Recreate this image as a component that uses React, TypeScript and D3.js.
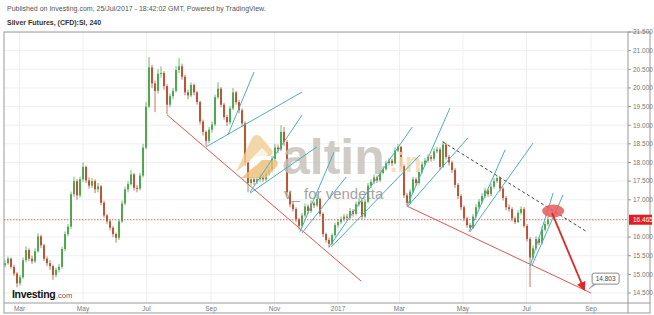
import React from 'react';
import * as d3 from 'd3';

// ---- data ----
const firstOpen = 15.25;
const closes = [
  15.30, 15.42, 15.20, 15.02, 14.76, 14.92, 15.38, 15.65, 15.42, 15.35,
  15.62, 16.02, 15.78, 15.42, 15.30, 15.22, 14.98, 15.12, 15.20, 15.68,
  16.08, 16.28, 17.15, 17.50, 17.12, 17.55, 17.88, 17.52, 17.38, 17.50,
  17.28, 17.36, 16.92, 16.58, 16.42, 16.25, 16.08, 15.98, 16.42, 16.90,
  17.28, 17.42, 17.68, 17.32, 17.30, 17.65, 18.40, 19.50, 20.55, 20.12,
  19.92, 20.38, 20.40, 20.05, 19.55, 19.78, 19.92, 20.48, 20.58, 20.30,
  19.88, 19.80, 20.08, 19.88, 19.62, 19.10, 18.82, 18.58, 18.88, 19.02,
  19.75, 19.98, 19.55, 19.22, 19.08, 19.45, 19.88, 19.62, 19.40, 19.05,
  18.00, 17.45, 17.55, 17.48, 17.55, 17.62, 17.55, 17.72, 17.80, 18.10,
  18.40, 18.35, 18.82, 18.55, 17.20, 16.88, 16.75, 16.48, 16.30, 16.58,
  16.82, 16.70, 16.90, 16.85, 17.02, 16.62, 16.08, 15.92, 15.82, 16.05,
  16.32, 16.40, 16.48, 16.55, 16.52, 16.70, 16.62, 16.88, 16.95, 16.55,
  16.95, 17.38, 17.48, 17.60, 17.52, 17.72, 17.82, 17.98, 18.05, 17.98,
  18.32, 18.42, 17.90, 17.12, 16.92, 17.22, 17.55, 17.45, 17.75, 17.95,
  18.05, 18.15, 18.10, 18.30, 18.35, 17.88, 18.48, 18.15, 18.00, 17.80,
  17.40, 17.10, 16.80, 16.50, 16.32, 16.25, 16.55, 16.80, 16.95, 17.10,
  17.25, 17.15, 17.35, 17.50, 17.58, 17.30, 17.05, 16.80, 16.75, 16.50,
  16.40, 16.65, 16.75, 16.30, 15.95, 15.45, 15.70, 15.95, 15.85, 16.20,
  16.35, 16.47,
];
const highs = [
  15.38, 15.48, 15.45, 15.26, 15.06, 14.98, 15.45, 15.75, 15.70, 15.50,
  15.70, 16.10, 16.06, 15.82, 15.48, 15.38, 15.26, 15.18, 15.28, 15.74,
  16.15, 16.35, 17.22, 17.62, 17.55, 17.62, 18.00, 17.92, 17.60, 17.58,
  17.55, 17.45, 17.40, 16.98, 16.62, 16.48, 16.30, 16.12, 16.48, 16.98,
  17.35, 17.50, 17.80, 17.72, 17.40, 17.72, 18.50, 19.62, 20.83, 20.62,
  20.20, 20.50, 20.58, 20.45, 20.10, 19.85, 20.00, 20.58, 20.80, 20.65,
  20.35, 19.95, 20.15, 20.12, 19.92, 19.66, 19.15, 18.86, 18.95, 19.10,
  19.82, 20.15, 20.02, 19.60, 19.28, 19.52, 20.00, 19.92, 19.68, 19.45,
  19.10, 18.05, 17.62, 17.60, 17.62, 17.70, 17.68, 17.80, 17.88, 18.18,
  18.50, 18.48, 19.00, 18.95, 18.60, 17.25, 16.95, 16.80, 16.52, 16.65,
  16.90, 16.88, 16.98, 16.95, 17.15, 17.06, 16.66, 16.12, 15.98, 16.10,
  16.38, 16.48, 16.55, 16.62, 16.62, 16.78, 16.75, 16.95, 17.05, 17.00,
  17.02, 17.45, 17.55, 17.68, 17.65, 17.80, 17.90, 18.05, 18.12, 18.10,
  18.40, 18.50, 18.45, 17.95, 17.18, 17.28, 17.62, 17.60, 17.82, 18.02,
  18.12, 18.22, 18.20, 18.38, 18.42, 18.40, 18.58, 18.52, 18.20, 18.05,
  17.85, 17.45, 17.15, 16.85, 16.55, 16.38, 16.62, 16.88, 17.02, 17.18,
  17.32, 17.30, 17.42, 17.58, 17.65, 17.62, 17.35, 17.10, 16.88, 16.80,
  16.55, 16.72, 16.82, 16.80, 16.35, 16.00, 15.78, 16.02, 16.00, 16.28,
  16.42, 16.55,
];
const lows = [
  15.18, 15.26, 15.15, 14.96, 14.65, 14.70, 14.88, 15.32, 15.36, 15.28,
  15.30, 15.58, 15.70, 15.36, 15.22, 15.12, 14.85, 14.92, 15.05, 15.15,
  15.62, 16.02, 16.22, 17.08, 17.00, 17.06, 17.48, 17.45, 17.30, 17.32,
  17.18, 17.20, 16.85, 16.52, 16.35, 16.18, 16.00, 15.85, 15.92, 16.38,
  16.85, 17.20, 17.38, 17.25, 17.20, 17.25, 17.60, 18.35, 19.45, 20.00,
  19.35, 19.85, 20.28, 19.95, 19.30, 19.48, 19.70, 19.88, 20.40, 20.22,
  19.80, 19.70, 19.75, 19.80, 19.55, 19.02, 18.72, 18.45, 18.52, 18.80,
  18.98, 19.70, 19.48, 19.15, 18.98, 19.02, 19.40, 19.55, 19.32, 18.95,
  17.92, 17.20, 17.38, 17.40, 17.42, 17.48, 17.48, 17.50, 17.65, 17.75,
  18.05, 18.25, 18.30, 18.45, 17.10, 16.80, 16.68, 16.40, 16.20, 16.25,
  16.52, 16.62, 16.65, 16.78, 16.80, 16.55, 16.00, 15.85, 15.72, 15.78,
  16.00, 16.25, 16.35, 16.42, 16.45, 16.48, 16.55, 16.58, 16.82, 16.48,
  16.50, 16.90, 17.32, 17.42, 17.45, 17.48, 17.68, 17.78, 17.92, 17.90,
  17.95, 18.28, 17.82, 17.05, 16.85, 16.88, 17.18, 17.38, 17.40, 17.70,
  17.90, 18.00, 18.02, 18.05, 18.25, 17.80, 17.85, 18.08, 17.92, 17.72,
  17.32, 17.02, 16.72, 16.42, 16.25, 16.20, 16.22, 16.50, 16.75, 16.90,
  17.05, 17.08, 17.10, 17.30, 17.45, 17.22, 16.98, 16.72, 16.68, 16.42,
  16.35, 16.38, 16.60, 16.25, 15.88, 14.66, 15.40, 15.65, 15.78, 15.80,
  16.15, 16.30,
];
const priceTicks = [21.5, 21, 20.5, 20, 19.5, 19, 18.5, 18, 17.5, 17, 16, 15.5, 15, 14.5];
const monthTicks = [
  ['2016-03-01', 'Mar'], ['2016-05-01', 'May'], ['2016-07-01', 'Jul'], ['2016-09-01', 'Sep'],
  ['2016-11-01', 'Nov'], ['2017-01-01', '2017'], ['2017-03-01', 'Mar'], ['2017-05-01', 'May'],
  ['2017-07-01', 'Jul'], ['2017-09-01', 'Sep'],
];
const lastPrice = 16.465;
const targetText = '14.803';
// drawings anchored at [bar index, price, bar index, price]
const redTrendLines = [
  [54, 19.28, 118.7, 14.82],
  [134, 16.83, 195.3, 14.5],
];
const channelLines = [
  [67, 18.42, 99, 19.89],
  [74.3, 18.74, 83, 20.43],
  [81.7, 17.21, 99, 19.27],
  [81.7, 17.18, 104, 18.42],
  [98.3, 16.14, 109.7, 18.28],
  [99, 16.11, 113.7, 17.61],
  [108, 15.73, 135.7, 18.95],
  [108.7, 15.73, 138.3, 18.2],
  [134, 16.83, 148.3, 19.46],
  [134.3, 16.83, 154.3, 18.66],
  [154.7, 16.14, 166.7, 18.34],
  [155, 16.14, 176, 18.52],
  [175, 15.22, 182.7, 17.18],
  [175.7, 15.25, 186, 17.13],
];
const dashedLine = [146, 18.55, 194, 16.14];
const arrowLine = [182.3, 16.65, 193, 14.6];
const ellipseAt = [182.7, 16.7];
const calloutAt = [193.7, 14.55];

const W = 654, H = 315;
const plot = { left: 4, right: 628, top: 32, bottom: 303 };
const FONT = 'Liberation Sans, Arial, sans-serif';

const xScale = d3.scaleTime()
  .domain([new Date(2016, 2, 1), new Date(2017, 8, 1)])
  .range([19.5, 591]);
const yScale = d3.scaleLinear().domain([14.5, 21.5]).range([293, 32]);
const barStart = new Date(2016, 1, 16, 2).getTime();
const barStep = 2.882 * 86400000;
const bx = (i: number) => xScale(new Date(barStart + i * barStep));

export default function App() {
  const up = '#4fa84f';
  const down = '#bb5538';
  const candles = closes.map((c, i) => {
    const o = i === 0 ? firstOpen : closes[i - 1];
    const x = bx(i);
    const isUp = c >= o;
    const yTop = yScale(Math.max(o, c));
    const yBot = yScale(Math.min(o, c));
    const col = isUp ? up : down;
    return (
      <g key={i}>
        <line x1={x} x2={x} y1={yScale(highs[i])} y2={yScale(lows[i])} stroke={col} strokeWidth={0.8} />
        <rect x={x - 1} y={yTop} width={2} height={Math.max(1, yBot - yTop)} fill={col} />
      </g>
    );
  });

  const seg = (l: number[], key: string, props: any) => (
    <line key={key} x1={bx(l[0])} y1={yScale(l[1])} x2={bx(l[2])} y2={yScale(l[3])} {...props} />
  );

  const ex = bx(ellipseAt[0]), ey = yScale(ellipseAt[1]);
  const cx = bx(calloutAt[0]), cy = yScale(calloutAt[1]);

  return (
    <svg width={W} height={H} style={{ position: 'absolute', left: 0, top: 0, background: '#fff' }}
      fontFamily={FONT}>
      <defs>
        <clipPath id="plotclip">
          <rect x={plot.left} y={plot.top} width={plot.right - plot.left} height={plot.bottom - plot.top} />
        </clipPath>
        <marker id="arrowhead" viewBox="0 0 10 10" refX={8} refY={5} markerWidth={5} markerHeight={5} orient="auto">
          <path d="M0,0 L10,5 L0,10 z" fill="#e02626" />
        </marker>
      </defs>
      <rect x={0} y={0} width={W} height={H} fill="#fff" />
      <text x={7} y={11} fontSize={7} fill="#555">Published on Investing.com, 25/Jul/2017 - 18:42:02 GMT, Powered by TradingView.</text>
      <text x={7} y={25} fontSize={7} fontWeight="bold" fill="#333">Silver Futures, (CFD):SI, 240</text>

      {/* grid */}
      <g clipPath="url(#plotclip)">
        {priceTicks.map((p) => (
          <line key={'h' + p} x1={plot.left} x2={plot.right} y1={yScale(p)} y2={yScale(p)} stroke="#efefef" />
        ))}
        {monthTicks.map(([d]) => (
          <line key={'v' + d} x1={xScale(new Date(d + 'T00:00'))} x2={xScale(new Date(d + 'T00:00'))}
            y1={plot.top} y2={plot.bottom} stroke="#efefef" />
        ))}
      </g>

      {/* candles */}
      <g clipPath="url(#plotclip)">{candles}</g>

      {/* watermark (overlay) */}
      <g opacity={0.82}>
        <path d="M236,172 L252,138 Q255,133 260,136 L272,150 Q274,154 270,156 L256,156 Z" fill="#f2cf96" />
        <path d="M241,178 L262,160 L276,160 Q279,162 277,166 L266,178 Z" fill="#eebf7a" />
        <path d="M250,160 L262,148 L268,154 L256,166 Z" fill="#fff" opacity={0.7} />
        <text x={282} y={174} fontSize={50} fontWeight="bold" fill="#c6c0b8">altin</text>
        <text x={390} y={172} fontSize={27} fontWeight="bold" fill="#f1d8ae">.in</text>
        <text x={284} y={199} fontSize={15} fill="#8f8f8f">v_ for vendetta</text>
      </g>

      {/* last price line */}
      <line x1={plot.left} x2={plot.right} y1={yScale(lastPrice)} y2={yScale(lastPrice)}
        stroke="#e05050" strokeDasharray="1.5,1.5" strokeWidth={0.9} />

      {/* drawings */}
      <g clipPath="url(#plotclip)">
        {redTrendLines.map((l, i) => seg(l, 'r' + i, { stroke: '#df5656', strokeWidth: 1 }))}
        {channelLines.map((l, i) => seg(l, 'c' + i, { stroke: '#4fb0b4', strokeWidth: 1 }))}
        {seg(dashedLine, 'dash', { stroke: '#444', strokeWidth: 1, strokeDasharray: '3,2.5' })}
        <ellipse cx={ex} cy={ey} rx={11} ry={6.5} fill="#e85a5a" opacity={0.85} />
        {seg(arrowLine, 'arrow', { stroke: '#e02626', strokeWidth: 1.8, markerEnd: 'url(#arrowhead)' })}
        <path d={`M${cx + 8},${cy - 8} L${cx + 12},${cy - 8} L${cx + 1},${cy - 1} Z`} fill="#a0a0a0" />
        <rect x={cx + 6} y={cy - 18} width={27} height={11} rx={2} fill="#fff" stroke="#8a8a8a" strokeWidth={1} />
        <text x={cx + 19.5} y={cy - 10.2} fontSize={6.5} fill="#444" textAnchor="middle">{targetText}</text>
      </g>

      {/* Investing logo */}
      <text x={12} y={298} fontSize={10.5} fontWeight="bold" fill="#111" letterSpacing={-0.3}>Investing</text>
      <text x={56} y={298} fontSize={7.5} fill="#666">.com</text>

      {/* frame */}
      <rect x={plot.left} y={plot.top} width={650 - plot.left} height={313 - plot.top} fill="none" stroke="#999" />
      <line x1={plot.right} x2={plot.right} y1={plot.top} y2={313} stroke="#999" />
      <line x1={plot.left} x2={650} y1={plot.bottom} y2={plot.bottom} stroke="#999" />

      {/* price axis */}
      {priceTicks.map((p) => (
        <g key={'pt' + p}>
          <line x1={plot.right} x2={plot.right + 3} y1={yScale(p)} y2={yScale(p)} stroke="#999" />
          <text x={plot.right + 5} y={yScale(p) + 2.3} fontSize={6.5} fill="#777">{p.toFixed(3)}</text>
        </g>
      ))}
      <rect x={plot.right + 1} y={yScale(lastPrice) - 5} width={23} height={10} fill="#e41e1e" />
      <text x={plot.right + 5} y={yScale(lastPrice) + 2.3} fontSize={6.5} fill="#fff">{lastPrice.toFixed(3)}</text>

      {/* time axis */}
      {monthTicks.map(([d, label]) => (
        <text key={'mt' + d} x={xScale(new Date(d + 'T00:00'))} y={311} fontSize={6.5} fill="#777" textAnchor="middle">{label}</text>
      ))}
    </svg>
  );
}
